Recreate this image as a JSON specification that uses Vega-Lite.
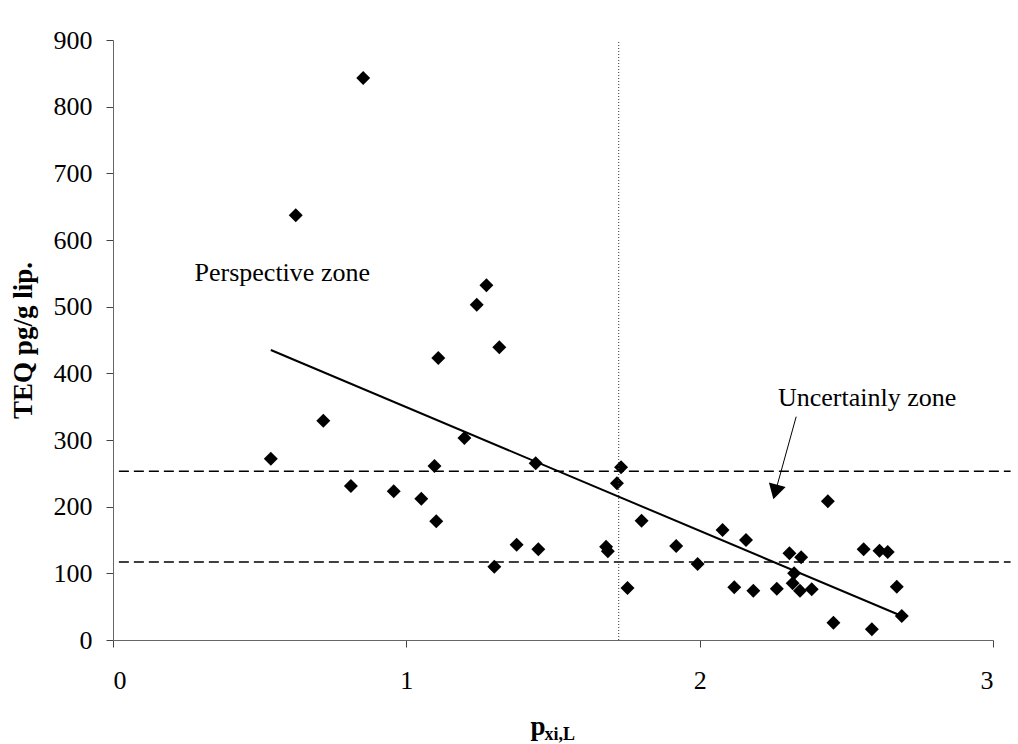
{
  "$schema": "https://vega.github.io/schema/vega-lite/v6.json",
  "width": 880,
  "height": 600,
  "autosize": {"type": "none"},
  "padding": {"left": 113, "top": 40, "right": 25, "bottom": 104},
  "background": "white",
  "config": {
    "font": "Liberation Serif",
    "view": {"stroke": null},
    "axis": {"grid": false, "domainColor": "#666666", "tickColor": "#444444", "labelColor": "black", "titleColor": "black", "labelFont": "Liberation Serif", "titleFont": "Liberation Serif"}
  },
  "datasets": {
    "points": [
      {"x": 0.853, "y": 843}, {"x": 0.623, "y": 637}, {"x": 1.273, "y": 532}, {"x": 1.240, "y": 503},
      {"x": 1.317, "y": 439}, {"x": 1.109, "y": 423}, {"x": 0.717, "y": 329}, {"x": 0.538, "y": 272},
      {"x": 1.198, "y": 303}, {"x": 1.096, "y": 261}, {"x": 1.441, "y": 265}, {"x": 1.732, "y": 259},
      {"x": 1.718, "y": 235}, {"x": 0.811, "y": 231}, {"x": 0.957, "y": 223}, {"x": 1.051, "y": 212},
      {"x": 1.102, "y": 178}, {"x": 1.802, "y": 179}, {"x": 1.376, "y": 143}, {"x": 1.450, "y": 136},
      {"x": 1.681, "y": 140}, {"x": 1.687, "y": 133}, {"x": 1.920, "y": 141}, {"x": 1.993, "y": 114},
      {"x": 1.300, "y": 110}, {"x": 1.754, "y": 78}, {"x": 2.437, "y": 208}, {"x": 2.078, "y": 165},
      {"x": 2.158, "y": 150}, {"x": 2.306, "y": 130}, {"x": 2.346, "y": 124}, {"x": 2.559, "y": 136},
      {"x": 2.613, "y": 134}, {"x": 2.641, "y": 132}, {"x": 2.322, "y": 100}, {"x": 2.317, "y": 85},
      {"x": 2.342, "y": 74}, {"x": 2.382, "y": 76}, {"x": 2.263, "y": 77}, {"x": 2.183, "y": 74},
      {"x": 2.118, "y": 79}, {"x": 2.672, "y": 80}, {"x": 2.456, "y": 26}, {"x": 2.587, "y": 16},
      {"x": 2.689, "y": 36}
    ],
    "trend": [{"x": 0.538, "y": 435}, {"x": 2.689, "y": 36}],
    "hlines": [
      {"line": "upper", "x": 0.02, "y": 253}, {"line": "upper", "x": 3.06, "y": 253},
      {"line": "lower", "x": 0.02, "y": 117}, {"line": "lower", "x": 3.06, "y": 117}
    ],
    "vline": [{"x": 1.724, "y": 0}, {"x": 1.724, "y": 900}],
    "arrow": [{"x": 2.329, "y": 335}, {"x": 2.258, "y": 222}],
    "arrowhead": [{"x": 2.258, "y": 222}],
    "labels": [
      {"x": 0.577, "y": 551, "text": "Perspective zone"},
      {"x": 2.571, "y": 363, "text": "Uncertainly zone"}
    ]
  },
  "resolve": {"axis": {"x": "independent"}},
  "layer": [
    {
      "data": {"name": "points"},
      "mark": {"type": "point", "shape": "diamond", "filled": true, "color": "black", "size": 195, "opacity": 1},
      "encoding": {
        "x": {"field": "x", "type": "quantitative", "scale": {"domain": [0, 3], "nice": false},
          "axis": {"values": [0, 1, 2, 3], "tickSize": 7, "labelFontSize": 26, "labelPadding": 20, "title": "p", "titleFontSize": 27, "titleFontWeight": "bold", "titleAlign": "left", "titleBaseline": "alphabetic", "titleX": 417, "titleY": 94}},
        "y": {"field": "y", "type": "quantitative", "scale": {"domain": [0, 900], "nice": false},
          "axis": {"values": [0, 100, 200, 300, 400, 500, 600, 700, 800, 900], "tickSize": 7, "labelFontSize": 26, "labelPadding": 14, "title": "TEQ pg/g lip.", "titleFontSize": 27, "titleFontWeight": "bold", "titlePadding": 16}}
      }
    },
    {
      "data": {"name": "hlines"},
      "mark": {"type": "line", "color": "black", "strokeWidth": 1.5, "strokeDash": [10, 5]},
      "encoding": {
        "x": {"field": "x", "type": "quantitative",
          "axis": {"orient": "bottom", "labels": false, "ticks": false, "domain": false, "title": "xi,L", "titleFontSize": 18, "titleFontWeight": "bold", "titleAlign": "left", "titleBaseline": "alphabetic", "titleX": 431, "titleY": 99}},
        "y": {"field": "y", "type": "quantitative"},
        "detail": {"field": "line"}
      }
    },
    {
      "data": {"name": "vline"},
      "mark": {"type": "line", "color": "#333333", "strokeWidth": 1, "strokeDash": [1, 2]},
      "encoding": {
        "x": {"field": "x", "type": "quantitative", "axis": null},
        "y": {"field": "y", "type": "quantitative"}
      }
    },
    {
      "data": {"name": "trend"},
      "mark": {"type": "line", "color": "black", "strokeWidth": 2},
      "encoding": {
        "x": {"field": "x", "type": "quantitative", "axis": null},
        "y": {"field": "y", "type": "quantitative"}
      }
    },
    {
      "data": {"name": "arrow"},
      "mark": {"type": "line", "color": "black", "strokeWidth": 1},
      "encoding": {
        "x": {"field": "x", "type": "quantitative", "axis": null},
        "y": {"field": "y", "type": "quantitative"}
      }
    },
    {
      "data": {"name": "arrowhead"},
      "mark": {"type": "point", "shape": "triangle-down", "filled": true, "color": "black", "size": 300, "angle": 15, "opacity": 1},
      "encoding": {
        "x": {"field": "x", "type": "quantitative", "axis": null},
        "y": {"field": "y", "type": "quantitative"}
      }
    },
    {
      "data": {"name": "labels"},
      "mark": {"type": "text", "fontSize": 26, "color": "black", "baseline": "middle", "align": "center", "font": "Liberation Serif"},
      "encoding": {
        "x": {"field": "x", "type": "quantitative", "axis": null},
        "y": {"field": "y", "type": "quantitative"},
        "text": {"field": "text"}
      }
    }
  ]
}
